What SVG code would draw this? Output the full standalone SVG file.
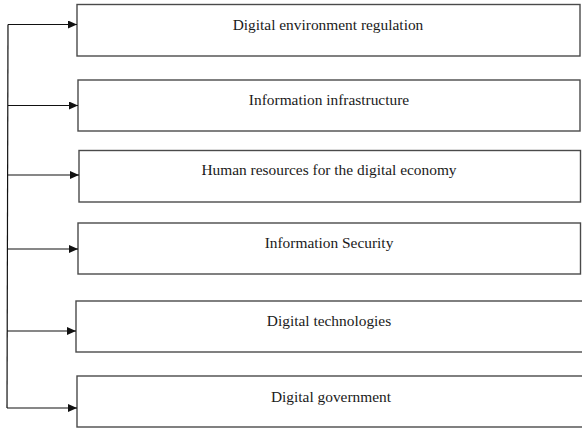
<svg xmlns="http://www.w3.org/2000/svg" width="582" height="428" viewBox="0 0 582 428">
<style>
.box{fill:#fff;stroke:#4a4a4a;stroke-width:1.4}
.lbl{font-family:"Liberation Serif","Times New Roman",serif;font-size:15.4px;fill:#1a1a1a;text-anchor:middle}
.con{stroke:#111;stroke-width:1.2;fill:none}
</style>
<defs>
<marker id="ah" markerWidth="9" markerHeight="8" refX="9" refY="4" orient="auto" markerUnits="userSpaceOnUse">
<path d="M0,0 L9,4 L0,8 z" fill="#111"/>
</marker>
</defs>
<rect width="582" height="428" fill="#fff"/>
<g id="n1"><rect class="box" x="77" y="4.5" width="503" height="51.5"/><text class="lbl" x="328" y="30">Digital environment regulation</text></g>
<g id="n2"><rect class="box" x="78" y="80" width="502" height="51"/><text class="lbl" x="329" y="105">Information infrastructure</text></g>
<g id="n3"><rect class="box" x="79" y="150.5" width="501.5" height="51.5"/><text class="lbl" x="329" y="175">Human resources for the digital economy</text></g>
<g id="n4"><rect class="box" x="78" y="223" width="502.5" height="51"/><text class="lbl" x="329" y="248">Information Security</text></g>
<g id="n5"><rect class="box" x="76" y="301" width="510" height="51"/><text class="lbl" x="329" y="326">Digital technologies</text></g>
<g id="n6"><rect class="box" x="77" y="376" width="510" height="51"/><text class="lbl" x="331" y="402">Digital government</text></g>
<g id="connectors">
<path class="con" d="M8,24.5 L7,408"/>
<path class="con" d="M8,24.5 H77" marker-end="url(#ah)"/>
<path class="con" d="M8,105.5 H78" marker-end="url(#ah)"/>
<path class="con" d="M7.5,175 H79" marker-end="url(#ah)"/>
<path class="con" d="M7.5,249 H78" marker-end="url(#ah)"/>
<path class="con" d="M7,331 H76" marker-end="url(#ah)"/>
<path class="con" d="M7,408 H77" marker-end="url(#ah)"/>
</g>
</svg>
